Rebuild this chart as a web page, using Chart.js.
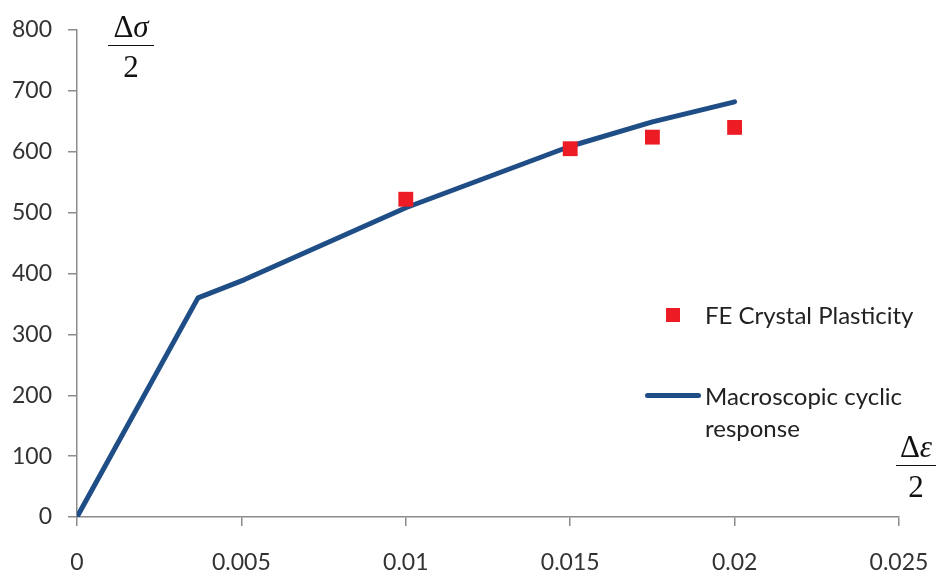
<!DOCTYPE html>
<html>
<head>
<meta charset="utf-8">
<script src="https://cdn.jsdelivr.net/npm/chart.js@4"></script>
<style>
  html, body { margin: 0; padding: 0; background: #fff; }
  #wrap { position: relative; width: 938px; height: 585px; }
  canvas { position: absolute; left: 0; top: 0; }
  .frac { position: absolute; font-family: "Liberation Serif", "DejaVu Serif", serif; font-size: 31px; color: #111; text-align: center; line-height: 1; }
  .frac .num { padding-bottom: 3px; border-bottom: 1.5px solid #111; }
  .frac .den { padding-top: 5px; }
  .frac i { font-style: italic; }
  .leg { position: absolute; font-family: Lato, "Open Sans", sans-serif; font-size: 24px; color: #222; line-height: 32px; }
  .mk { position: absolute; }
</style>
</head>
<body>
<div id="wrap">
  <canvas id="c" width="938" height="585"></canvas>
  <div class="frac" style="left:108px; top:11px; width:46px;">
    <div class="num">Δ<i>σ</i></div>
    <div class="den">2</div>
  </div>
  <div class="frac" style="left:896px; top:431px; width:40px;">
    <div class="num">Δ<i>ε</i></div>
    <div class="den">2</div>
  </div>
  <div class="mk" style="left:666px; top:308px; width:14px; height:14px; background:#ed1c24;"></div>
  <div class="leg" style="left:705px; top:299px;">FE Crystal Plasticity</div>
  <div class="mk" style="left:645px; top:393px; width:56px; height:5px; border-radius:3px; background:#1f4e86;"></div>
  <div class="leg" style="left:705px; top:380px;">Macroscopic cyclic<br>response</div>
</div>
<script>
// strain amplitude (x) vs stress amplitude (y)
var CURVE_X = [0, 0.00368, 0.0051, 0.01, 0.015, 0.0175, 0.02];
var CURVE_Y = [0, 360, 390, 508, 609, 649, 682];
var FE_X = [0.01, 0.015, 0.0175, 0.02];
var FE_Y = [522, 605, 624, 640];
var X_TICKS = [0, 0.005, 0.01, 0.015, 0.02, 0.025];

function pts(xs, ys) {
  return xs.map(function(x, i) { return { x: x, y: ys[i] }; });
}

var tickFont = { family: 'Lato, "Open Sans", sans-serif', size: 23 };

new Chart(document.getElementById('c'), {
  type: 'scatter',
  data: {
    datasets: [
      {
        label: 'Macroscopic cyclic response',
        data: pts(CURVE_X, CURVE_Y),
        showLine: true,
        borderColor: '#1f4e86',
        borderWidth: 5,
        borderCapStyle: 'round',
        borderJoinStyle: 'round',
        pointRadius: 0,
        tension: 0,
        order: 2
      },
      {
        label: 'FE Crystal Plasticity',
        data: pts(FE_X, FE_Y),
        pointStyle: 'rect',
        pointRadius: 10.5,
        backgroundColor: '#ed1c24',
        borderColor: '#ed1c24',
        borderWidth: 0,
        order: 1
      }
    ]
  },
  options: {
    responsive: false,
    animation: false,
    layout: { padding: { left: 0, right: 39, top: 30, bottom: 0 } },
    plugins: { legend: { display: false }, tooltip: { enabled: false } },
    scales: {
      x: {
        type: 'linear',
        min: 0, max: 0.025,
        afterBuildTicks: function(s) { s.ticks = X_TICKS.map(function(v) { return { value: v }; }); },
        afterFit: function(s) { s.height = 68; s.paddingLeft = 0; s.paddingRight = 0; },
        border: { color: '#8c8c8c', width: 1.5 },
        grid: { display: true, drawOnChartArea: false, tickLength: 9, color: '#8c8c8c', lineWidth: 1.5 },
        ticks: { font: tickFont, color: '#333', padding: 23, maxRotation: 0,
          callback: function(v) { return String(+v.toFixed(3)); } }
      },
      y: {
        min: 0, max: 800,
        afterFit: function(s) { s.width = 77; s.paddingTop = 0; s.paddingBottom = 0; },
        border: { color: '#8c8c8c', width: 1.5 },
        grid: { display: true, drawOnChartArea: false, tickLength: 9, color: '#8c8c8c', lineWidth: 1.5 },
        ticks: { font: tickFont, color: '#333', padding: 16, stepSize: 100 }
      }
    }
  }
});
</script>
</body>
</html>
